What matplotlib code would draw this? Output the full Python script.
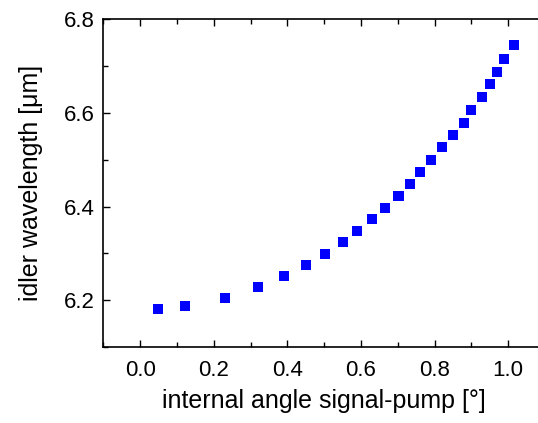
import matplotlib
matplotlib.use("Agg")
import matplotlib.pyplot as plt
from matplotlib.ticker import MultipleLocator

# internal angle signal-pump [deg] and idler wavelength [um]
angle = [0.048, 0.122, 0.230, 0.320, 0.390, 0.451, 0.501, 0.550, 0.590, 0.630,
         0.666, 0.702, 0.734, 0.760, 0.790, 0.820, 0.850, 0.880, 0.900, 0.929,
         0.950, 0.969, 0.989, 1.015]
idler = [6.181, 6.187, 6.204, 6.228, 6.252, 6.275, 6.299, 6.324, 6.348, 6.373,
         6.397, 6.423, 6.449, 6.474, 6.500, 6.527, 6.553, 6.579, 6.606, 6.634,
         6.661, 6.688, 6.716, 6.746]

plt.rcParams['font.family'] = ['Liberation Sans', 'DejaVu Sans']

fig = plt.figure(figsize=(5.38, 4.23), dpi=100)
# the right edge of the frame falls just outside the picture, as in the original
ax = fig.add_axes([103.3 / 538, 1 - 347 / 423, (545 - 103.3) / 538, (347 - 19.3) / 423])

ax.scatter(angle, idler, marker='s', s=52, color='#0000ff', edgecolors='none')

ax.set_xlim(-0.1, 1.1)
ax.set_ylim(6.1, 6.8)
ax.xaxis.set_major_locator(MultipleLocator(0.2))
ax.xaxis.set_minor_locator(MultipleLocator(0.1))
ax.yaxis.set_major_locator(MultipleLocator(0.2))
ax.yaxis.set_minor_locator(MultipleLocator(0.1))
ax.tick_params(which='both', direction='in', top=True, right=True, width=1.0,
               labelsize=16)
ax.tick_params(axis='x', pad=9)
ax.tick_params(axis='y', pad=6)
ax.tick_params(which='major', length=5)
ax.tick_params(which='minor', length=3.5)
ax.xaxis.set_major_formatter(plt.FuncFormatter(lambda v, p: f"{v:.1f}"))
ax.yaxis.set_major_formatter(plt.FuncFormatter(lambda v, p: f"{v:.1f}"))
for sp in ax.spines.values():
    sp.set_linewidth(1.2)

ax.set_xlabel("internal angle signal-pump [°]", fontsize=18, labelpad=6)
ax.set_ylabel("idler wavelength [μm]", fontsize=18, labelpad=15)

fig.savefig("out.png", dpi=100)
